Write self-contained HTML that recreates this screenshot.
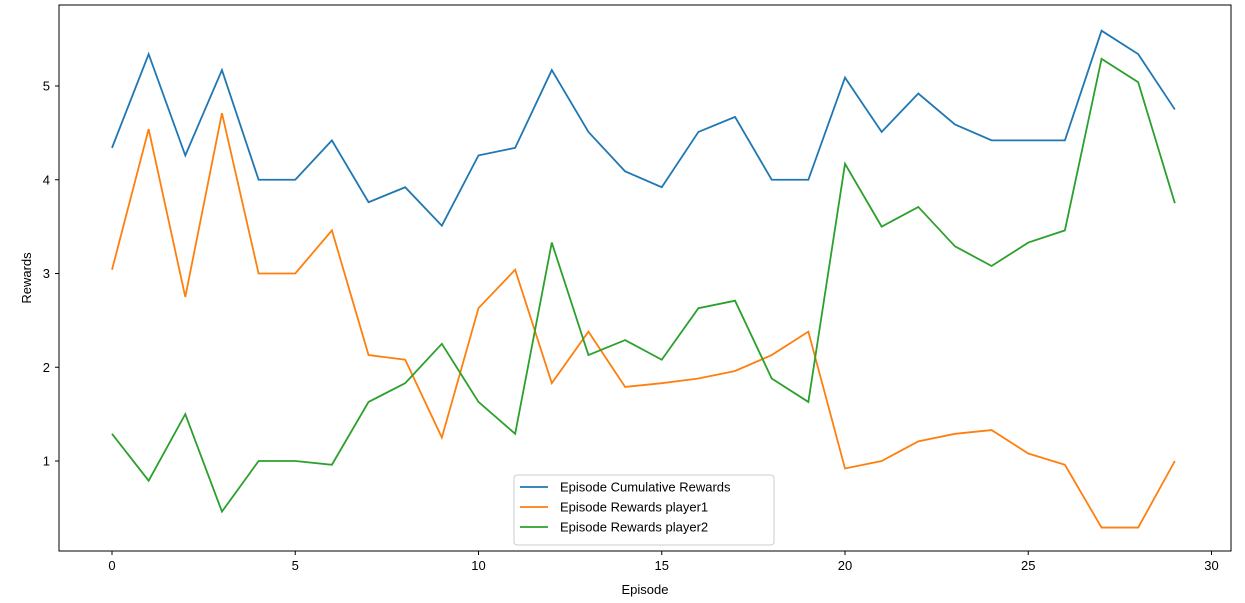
<!DOCTYPE html>
<html><head><meta charset="utf-8"><style>
body{margin:0;background:#fff;}
svg{display:block;font-family:"Liberation Sans","DejaVu Sans",sans-serif;}
</style></head><body>
<svg id="chart" width="1245" height="603"></svg>
<script>
const episodes=[...Array(30).keys()];
const cumulative=[4.34,5.34,4.26,5.17,4.0,4.0,4.42,3.76,3.92,3.51,4.26,4.34,5.17,4.51,4.09,3.92,4.51,4.67,4.0,4.0,5.09,4.51,4.92,4.59,4.42,4.42,4.42,5.59,5.34,4.75];
const player1=[3.04,4.54,2.75,4.71,3,3,3.46,2.13,2.08,1.25,2.63,3.04,1.83,2.38,1.79,1.83,1.88,1.96,2.13,2.38,0.92,1.0,1.21,1.29,1.33,1.08,0.96,0.29,0.29,1.0];
const player2=[1.29,0.79,1.5,0.46,1.0,1.0,0.96,1.63,1.83,2.25,1.63,1.29,3.33,2.13,2.29,2.08,2.63,2.71,1.88,1.63,4.17,3.5,3.71,3.29,3.08,3.33,3.46,5.29,5.04,3.75];
const xTicks=[0,5,10,15,20,25,30];
const yTicks=[1,2,3,4,5];
const seriesNames=["Episode Cumulative Rewards","Episode Rewards player1","Episode Rewards player2"];
const colors=["#1f77b4","#ff7f0e","#2ca02c"];
const NS="http://www.w3.org/2000/svg";
const svg=document.getElementById('chart');
const L=59,R=1231,T=5,B=551;
const xs=v=>112+v*36.65;
const ys=v=>461-(v-1)*93.75;
function mk(tag,attrs,parent){const e=document.createElementNS(NS,tag);for(const k in attrs)e.setAttribute(k,attrs[k]);(parent||svg).appendChild(e);return e;}
const frame=mk('rect',{x:L,y:T,width:R-L,height:B-T,fill:'none',stroke:'#000','stroke-width':1});


xTicks.forEach(t=>{
  const g=mk('g',{});
  
  
  mk('line',{x1:xs(t),x2:xs(t),y1:B,y2:B+4,stroke:'#000'},g);
  const tx=mk('text',{x:xs(t),y:B+19,'text-anchor':'middle','font-size':13},g);tx.textContent=t;
});
yTicks.forEach(t=>{
  const g=mk('g',{});
  
  
  mk('line',{x1:L-4,x2:L,y1:ys(t),y2:ys(t),stroke:'#000'},g);
  const tx=mk('text',{x:L-9,y:ys(t)+4.5,'text-anchor':'end','font-size':13},g);tx.textContent=t;
});
const xl=mk('text',{x:(L+R)/2,y:594,'text-anchor':'middle','font-size':13});xl.textContent='Episode';


const yl=mk('text',{x:0,y:0,'text-anchor':'middle','font-size':13,transform:'translate(31,278) rotate(-90)'});yl.textContent='Rewards';


[cumulative,player1,player2].forEach((s,i)=>{
  const p=mk('polyline',{points:s.map((v,j)=>xs(episodes[j])+','+ys(v)).join(' '),fill:'none',stroke:colors[i],'stroke-width':1.8});
  
  
});
const lg=mk('g',{});


mk('rect',{x:514,y:475,width:260,height:70,rx:3,fill:'#fff','fill-opacity':0.8,stroke:'#ccc'},lg);
seriesNames.forEach((n,i)=>{
  const g=mk('g',{},lg);
  
  
  const y=487+i*20;
  mk('line',{x1:520,x2:548,y1:y,y2:y,stroke:colors[i],'stroke-width':1.8},g);
  const t=mk('text',{x:560,y:y+4.5,'font-size':13},g);t.textContent=n;
});
</script>
</body></html>
